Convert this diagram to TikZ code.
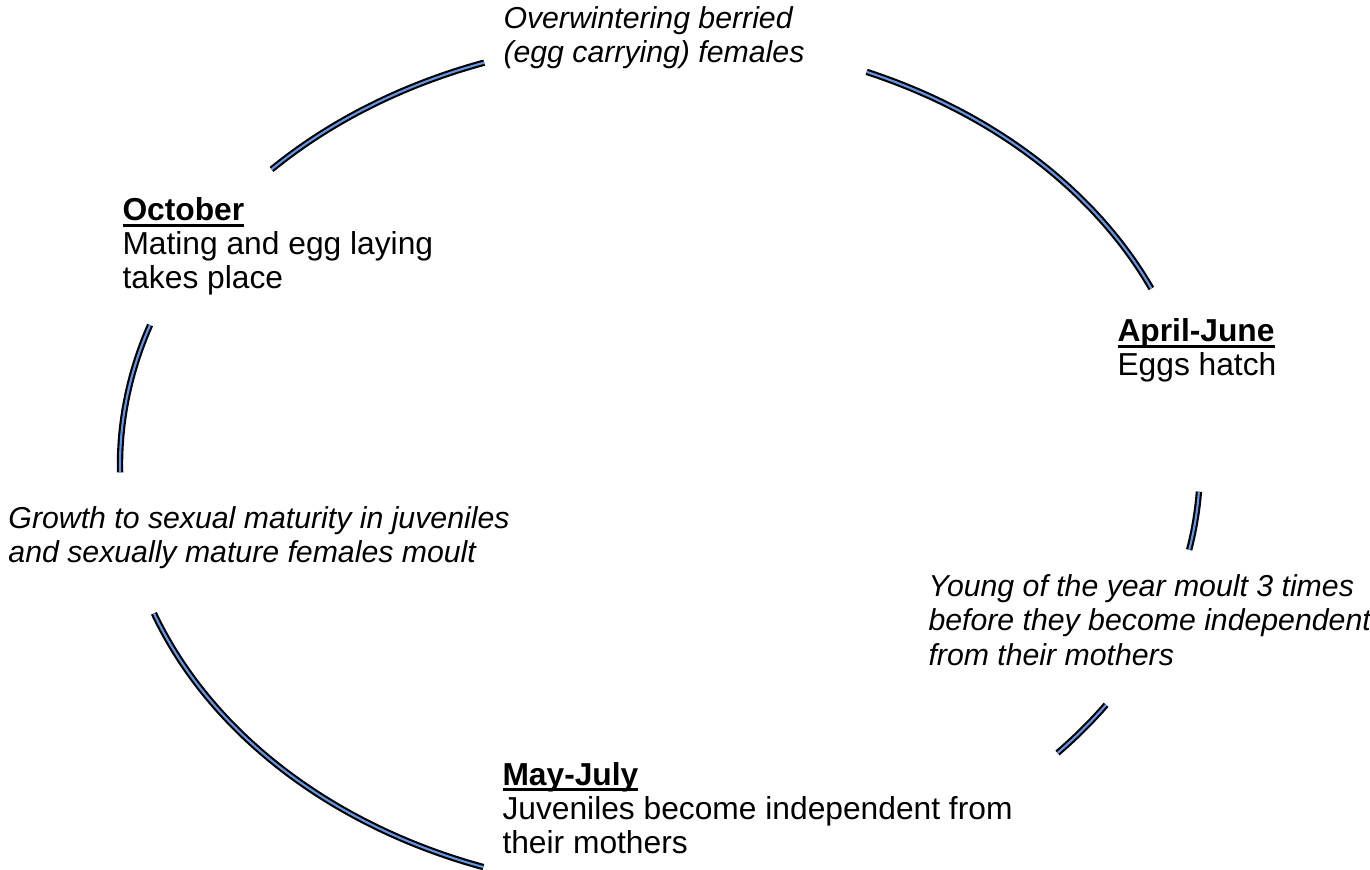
\documentclass[tikz,border=0pt]{standalone}
\usepackage{fontspec}
\setmainfont{Liberation Sans}
\definecolor{lineblue}{RGB}{100,150,230}
\newcommand\ulbf[1]{\setbox0\hbox{\bfseries #1}\rlap{\rule[-2.3pt]{\wd0}{1.1pt}}\box0}
\begin{document}
\begin{tikzpicture}[x=0.4pt,y=0.4pt,
  txt/.style={anchor=base west, inner sep=0pt, font=\fontsize{12.7}{14}\selectfont},
  it/.style={anchor=base west, inner sep=0pt, font=\fontsize{12.1}{13.8}\selectfont\itshape},
  cyc/.style={draw=black, line width=0.85pt, double=lineblue, double distance=0.85pt}]
\useasboundingbox (0,0) rectangle (1370,-870);
% cycle arcs: pieces of one ellipse
\foreach \a/\b in {109/136, 24.5/67.5, -11.5/-3.6, -42.6/-34.3, 200.4/250.9, 160.8/181}
  \draw[cyc] ([shift={(\a:540 and 425.5)}]660,-465) arc[start angle=\a, end angle=\b, x radius=540, y radius=425.5];
% texts
\node[it] (ow1) at (503,-29) {Overwintering berried};
\node[it] (ow2) at (503,-63) {(egg carrying) females};
\node[txt] (oct) at (122,-221) {\ulbf{October}};
\node[txt] (oct1) at (122,-255) {Mating and egg laying};
\node[txt] (oct2) at (122,-289) {takes place};
\node[txt] (apr) at (1117,-342) {\ulbf{April-June}};
\node[txt] (apr1) at (1117,-376) {Eggs hatch};
\node[it] (gr1) at (8,-529) {Growth to sexual maturity in juveniles};
\node[it] (gr2) at (8,-562) {and sexually mature females moult};
\node[it] (yo1) at (928,-597) {Young of the year moult 3 times};
\node[it] (yo2) at (928,-631) {before they become independent};
\node[it] (yo3) at (928,-665) {from their mothers};
\node[txt] (may) at (502,-785) {\ulbf{May-July}};
\node[txt] (may1) at (502,-819) {Juveniles become independent from};
\node[txt] (may2) at (502,-853) {their mothers};
\end{tikzpicture}
\end{document}
